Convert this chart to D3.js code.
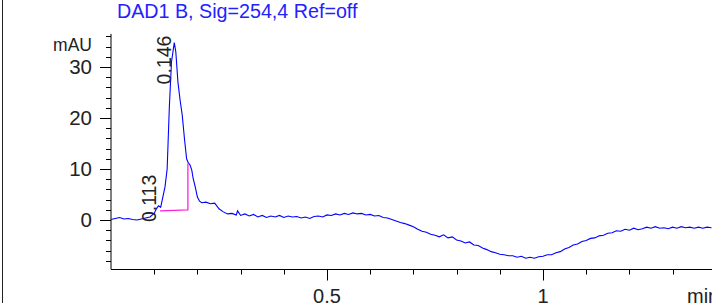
<!DOCTYPE html>
<html><head><meta charset="utf-8">
<script src="https://cdn.jsdelivr.net/npm/d3@7"></script>
<style>html,body{margin:0;padding:0;background:#fff;}svg{display:block;}</style>
</head><body>
<svg id="c" width="712" height="303"></svg>
<script>
const title = "DAD1 B, Sig=254,4 Ref=off";
const yUnit = "mAU";
const xUnit = "min";
const yMajorTicks = [0, 10, 20, 30];
const xMajorTicks = [0.5, 1];
const xTickLabels = ["0.5", "1"];
const peakTimes = [0.113, 0.146];
const peakLabels = ["0.113", "0.146"];
const peakLabelValues = [-0.4, 26.6];
// integration baseline (time, mAU)
const baseTimes = [0.1134, 0.178, 0.178];
const baseValues = [1.8, 2.0, 11.1];
// chromatogram trace (time in min, signal in mAU)
const times = [0.00,0.01,0.02,0.03,0.04,0.05,0.06,0.07,0.08,0.09,0.10,0.105,0.11,0.115,0.12,0.125,0.13,0.135,0.14,0.1465,0.15,0.155,0.16,0.165,0.17,0.175,0.179,0.183,0.187,0.19,0.195,0.20,0.205,0.21,0.22,0.23,0.24,0.25,0.26,0.27,0.28,0.29,0.293,0.30,0.31,0.32,0.33,0.34,0.35,0.36,0.37,0.38,0.39,0.40,0.41,0.42,0.43,0.44,0.45,0.46,0.47,0.48,0.49,0.50,0.51,0.52,0.53,0.54,0.55,0.56,0.57,0.58,0.59,0.60,0.61,0.62,0.63,0.64,0.65,0.66,0.67,0.68,0.69,0.70,0.71,0.72,0.73,0.74,0.75,0.76,0.77,0.78,0.79,0.80,0.81,0.82,0.83,0.84,0.85,0.86,0.87,0.88,0.89,0.90,0.91,0.92,0.93,0.94,0.95,0.96,0.97,0.98,0.99,1.00,1.01,1.02,1.03,1.04,1.05,1.06,1.07,1.08,1.09,1.10,1.11,1.12,1.13,1.14,1.15,1.16,1.17,1.18,1.19,1.20,1.21,1.22,1.23,1.24,1.25,1.26,1.27,1.28,1.29,1.30,1.31,1.32,1.33,1.34,1.35,1.36,1.37,1.38,1.39];
const signal = [0.1,0.3,0.5,0.2,0.3,0.1,0.0,0.2,0.4,0.6,1.3,2.2,2.8,2.5,4.5,6.5,10,22,31,34.8,33,27,23.5,20.5,16,12,11.2,10.8,9.8,8.2,6.5,4.5,3.7,3.4,3.5,3.2,3.3,2.2,1.6,1.2,1.3,1.0,1.8,0.9,1.2,0.8,1.1,0.6,0.9,0.5,0.8,0.6,0.9,0.5,0.8,0.6,0.7,0.4,0.6,0.3,0.7,0.8,0.6,1.0,0.9,1.2,1.0,1.3,1.1,1.4,1.2,1.3,1.0,1.1,0.8,0.9,0.5,0.4,0.1,-0.2,-0.5,-0.7,-1.0,-1.3,-1.8,-2.2,-2.4,-2.8,-3.0,-3.3,-2.9,-3.5,-3.3,-3.9,-4.1,-4.5,-4.3,-4.9,-5.0,-5.5,-5.8,-6.2,-6.4,-6.7,-6.8,-7.0,-7.0,-7.3,-7.1,-7.5,-7.3,-7.5,-7.2,-7.1,-6.8,-6.8,-6.4,-6.2,-5.7,-5.4,-4.9,-4.7,-4.2,-4.0,-3.6,-3.5,-3.1,-3.0,-2.6,-2.5,-2.1,-2.2,-1.8,-2.0,-1.6,-1.9,-1.7,-1.4,-1.6,-1.3,-1.6,-1.5,-1.7,-1.4,-1.6,-1.3,-1.5,-1.4,-1.6,-1.4,-1.6,-1.4,-1.5];

const svg = d3.select("#c");
const FONT = "'Liberation Sans', Arial, sans-serif";
const x = d3.scaleLinear().domain([0, 601/432]).range([111, 712]);
const y = d3.scaleLinear().domain([-9.7, 36.5]).range([269.5, 33.9]);

// frame line at left
svg.append("line").attr("x1",2.5).attr("x2",2.5).attr("y1",0).attr("y2",303)
  .attr("stroke","#222").attr("stroke-width",1);

// title
svg.append("text").attr("x",117).attr("y",18).attr("font-family",FONT)
  .attr("font-size",19.7).attr("fill","#2222ff").text(title);

// y axis
const yMinor = d3.range(-8, 37, 2);
const yAx = svg.append("g").attr("transform","translate(111,0)");
yAx.append("line").attr("x1",0).attr("x2",0).attr("y1",y(36.5)).attr("y2",y(-9.7)).attr("stroke","#000");
yAx.selectAll("line.mn").data(yMinor).join("line").attr("class","mn")
  .attr("x1",d=>yMajorTicks.includes(d)?-11:-5).attr("x2",0)
  .attr("y1",d=>Math.round(y(d))+0.5).attr("y2",d=>Math.round(y(d))+0.5).attr("stroke","#000");
yAx.selectAll("text").data(yMajorTicks).join("text")
  .attr("x",-19).attr("y",d=>y(d)+7).attr("text-anchor","end")
  .attr("font-family",FONT).attr("font-size",20.5).attr("fill","#222").text(d=>d);
svg.append("text").attr("x",92).attr("y",51).attr("text-anchor","end")
  .attr("font-family",FONT).attr("font-size",17.5).attr("fill","#222").text(yUnit);

// x axis
const xMinor = d3.range(1, 14).map(i => i/10);
const xAx = svg.append("g").attr("transform","translate(0,269.5)");
xAx.append("line").attr("x1",111).attr("x2",712).attr("y1",0).attr("y2",0).attr("stroke","#000");
xAx.selectAll("line.mn").data(xMinor).join("line").attr("class","mn")
  .attr("x1",d=>Math.round(x(d))+0.5).attr("x2",d=>Math.round(x(d))+0.5)
  .attr("y1",0).attr("y2",d=>(Math.abs(d-0.5)<1e-9||Math.abs(d-1)<1e-9)?11:5).attr("stroke","#000");
xAx.selectAll("text").data(xMajorTicks).join("text")
  .attr("x",d=>x(d)).attr("y",33).attr("text-anchor","middle")
  .attr("font-family",FONT).attr("font-size",20).attr("fill","#222")
  .text((d,i)=>xTickLabels[i]);
svg.append("text").attr("x",687).attr("y",302.5).attr("font-family",FONT)
  .attr("font-size",20).attr("fill","#222").text(xUnit);

// trace
const pts = times.map((t,i)=>[t, signal[i]]);
svg.append("path").datum(pts)
  .attr("d", d3.line().x(d=>x(d[0])).y(d=>y(d[1])))
  .attr("fill","none").attr("stroke","#0000ff").attr("stroke-width",1.1);

// integration baseline
const bpts = baseTimes.map((t,i)=>[t, baseValues[i]]);
svg.append("path").datum(bpts)
  .attr("d", d3.line().x(d=>x(d[0])).y(d=>y(d[1])))
  .attr("fill","none").attr("stroke","#ff22dd").attr("stroke-width",1.3);

// peak labels (rotated)
svg.selectAll("text.pk").data(peakTimes).join("text").attr("class","pk")
  .attr("transform",(d,i)=>`translate(${x(d)-3.5},${y(peakLabelValues[i])}) rotate(-90)`)
  .attr("font-family",FONT).attr("font-size",19.5).attr("fill","#222")
  .text((d,i)=>peakLabels[i]);
</script>
</body></html>
